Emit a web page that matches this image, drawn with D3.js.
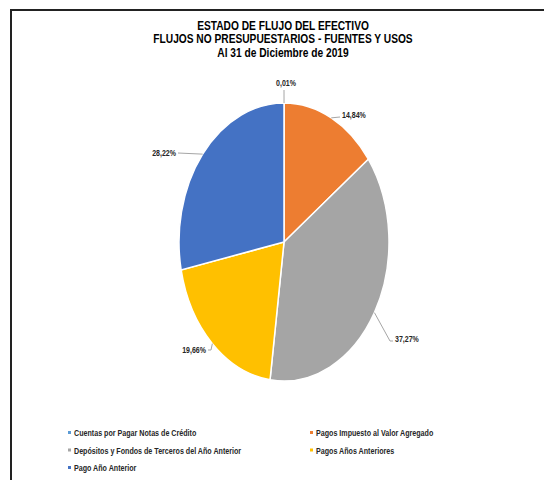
<!DOCTYPE html>
<html>
<head>
<meta charset="utf-8">
<script src="https://cdn.jsdelivr.net/npm/d3@7"></script>
<style>
  body { margin: 0; background: #fff; }
  svg { display: block; }
</style>
</head>
<body>
<script>

// datos del grafico
var categorias = [
  "Cuentas por Pagar Notas de Crédito",
  "Pagos Impuesto al Valor Agregado",
  "Depósitos y Fondos de Terceros del Año Anterior",
  "Pagos Años Anteriores",
  "Pago Año Anterior"
];
var porcentajes = [0.01, 14.84, 37.27, 19.66, 28.22];
var colores = ["#5B9BD5", "#ED7D31", "#A5A5A5", "#FFC000", "#4472C4"];
var titulo = [
  "ESTADO DE FLUJO DEL EFECTIVO",
  "FLUJOS NO PRESUPUESTARIOS - FUENTES Y USOS",
  "Al 31 de Diciembre de 2019"
];

const w = 544;
const h = 480;
const cx = 284, cy = 242;
const rx = 105, ry = 139;
const fuente = "'Liberation Sans', Arial, sans-serif";

var dataset = categorias.map(function (c, i) {
  return { cat: c, val: porcentajes[i], color: colores[i] };
});

const svg = d3.select("body")
  .append("svg")
  .attr("width", w)
  .attr("height", h);

// texto angosto: se comprime en horizontal
function texto(padre, x, y, sx, str) {
  return padre.append("g")
    .attr("transform", "translate(" + x + "," + y + ") scale(" + sx + ",1)")
    .append("text")
    .attr("font-family", fuente)
    .attr("font-weight", "bold")
    .text(str);
}

// marco del area del grafico
svg.append("path")
  .attr("d", "M11," + h + " L11,10 L" + w + ",10")
  .attr("fill", "none")
  .attr("stroke", "#222")
  .attr("stroke-width", 2);

titulo.forEach(function (t, i) {
  texto(svg, 283, 30 + i * 13.3, 0.85, t)
    .attr("text-anchor", "middle")
    .attr("font-size", 12)
    .attr("fill", "#000");
});

var pie = d3.pie()
  .sort(null)
  .value(d => d.val);

var arcos = pie(dataset);

var arc = d3.arc()
  .innerRadius(0)
  .outerRadius(rx);

// el pastel es eliptico: se escala en vertical
var gPie = svg.append("g")
  .attr("transform", "translate(" + cx + "," + cy + ") scale(1," + (ry / rx) + ")");

gPie.selectAll("path")
  .data(arcos)
  .enter()
  .append("path")
  .attr("d", arc)
  .attr("fill", d => d.data.color)
  .attr("stroke", "#fff")
  .attr("stroke-width", 1.5)
  .attr("vector-effect", "non-scaling-stroke");

// punto sobre el borde en el angulo medio
function borde(d) {
  var a = (d.startAngle + d.endAngle) / 2;
  return [cx + rx * Math.sin(a), cy - ry * Math.cos(a)];
}

// codo de la linea guia y lado del texto (posicion relativa al centro)
var guias = [
  { codo: [0, -152], fin: [0, -152], lado: "top" },
  { codo: [56, -125], fin: [56, -125], lado: "right" },
  { codo: [106, 99], fin: [109, 99], lado: "right" },
  { codo: [-73, 108], fin: [-76, 108], lado: "left" },
  { codo: [-106, -89], fin: [-106, -89], lado: "left" }
];

var gLab = svg.append("g");

arcos.forEach(function (d, i) {
  var p1 = borde(d);
  var g = guias[i];
  var p2 = [cx + g.codo[0], cy + g.codo[1]];
  var p3 = [cx + g.fin[0], cy + g.fin[1]];

  gLab.append("polyline")
    .attr("points", [p1, p2, p3].map(p => p.join(",")).join(" "))
    .attr("fill", "none")
    .attr("stroke", "#A6A6A6")
    .attr("stroke-width", 1);

  var etiqueta = d.data.val.toFixed(2).replace(".", ",") + "%";
  var t;
  if (g.lado == "top") {
    t = texto(gLab, p3[0] + 2, p3[1] - 4, 0.78, etiqueta).attr("text-anchor", "middle");
  } else if (g.lado == "right") {
    t = texto(gLab, p3[0] + 2, p3[1] + 1, 0.78, etiqueta).attr("text-anchor", "start");
  } else {
    t = texto(gLab, p3[0] - 2, p3[1] + 3, 0.78, etiqueta).attr("text-anchor", "end");
  }
  t.attr("font-size", 9).attr("fill", "#262626");
});

// leyenda en dos columnas
dataset.forEach(function (d, i) {
  var x = i % 2 == 0 ? 68 : 310;
  var y = 433 + Math.floor(i / 2) * 17.5;
  svg.append("rect")
    .attr("x", x)
    .attr("y", y - 2)
    .attr("width", 3)
    .attr("height", 3)
    .attr("fill", d.color);
  texto(svg, x + 6, y + 3, 0.84, d.cat)
    .attr("font-size", 8.5)
    .attr("fill", "#262626");
});

</script>
</body>
</html>
